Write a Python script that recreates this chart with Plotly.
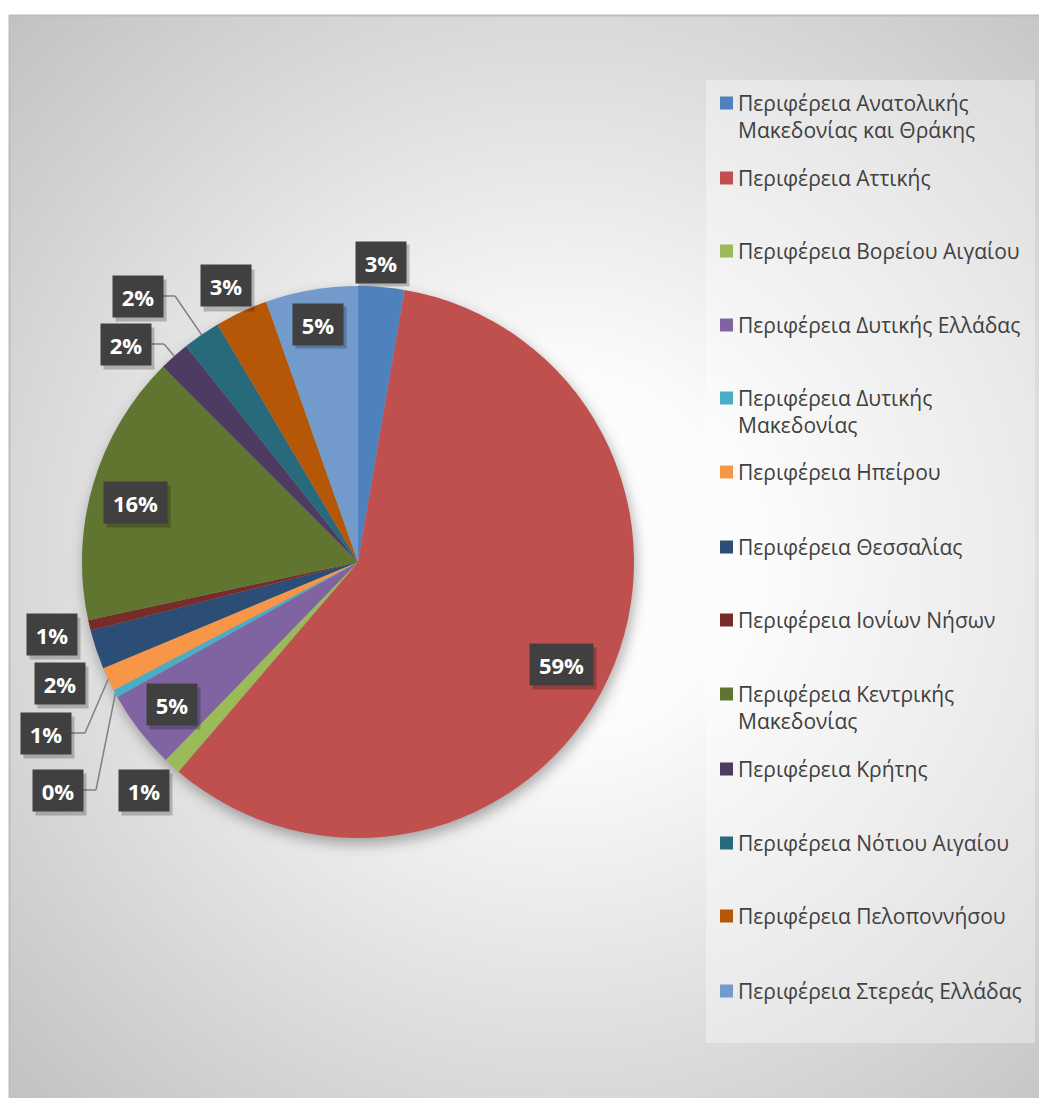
import base64
import math
import plotly.graph_objects as go

# ---------------- data ----------------
regions = [
    "Περιφέρεια Ανατολικής Μακεδονίας και Θράκης",
    "Περιφέρεια Αττικής",
    "Περιφέρεια Βορείου Αιγαίου",
    "Περιφέρεια Δυτικής Ελλάδας",
    "Περιφέρεια Δυτικής Μακεδονίας",
    "Περιφέρεια Ηπείρου",
    "Περιφέρεια Θεσσαλίας",
    "Περιφέρεια Ιονίων Νήσων",
    "Περιφέρεια Κεντρικής Μακεδονίας",
    "Περιφέρεια Κρήτης",
    "Περιφέρεια Νότιου Αιγαίου",
    "Περιφέρεια Πελοποννήσου",
    "Περιφέρεια Στερεάς Ελλάδας",
]
legend_lines = [
    "Περιφέρεια Ανατολικής<br>Μακεδονίας και Θράκης",
    "Περιφέρεια Αττικής",
    "Περιφέρεια Βορείου Αιγαίου",
    "Περιφέρεια Δυτικής Ελλάδας",
    "Περιφέρεια Δυτικής<br>Μακεδονίας",
    "Περιφέρεια Ηπείρου",
    "Περιφέρεια Θεσσαλίας",
    "Περιφέρεια Ιονίων Νήσων",
    "Περιφέρεια Κεντρικής<br>Μακεδονίας",
    "Περιφέρεια Κρήτης",
    "Περιφέρεια Νότιου Αιγαίου",
    "Περιφέρεια Πελοποννήσου",
    "Περιφέρεια Στερεάς Ελλάδας",
]
shares = [2.7, 58.6, 1.0, 4.6, 0.45, 1.4, 2.3, 0.6, 15.9, 1.8, 2.2, 3.1, 5.4]

colors = ["#4F81BD", "#C0504D", "#9BBB59", "#8064A2", "#4BACC6", "#F79646",
          "#2C4D75", "#772C2A", "#5F7530", "#4D3B62", "#276A7C", "#B65708",
          "#729ACA"]

# ---------------- layout geometry (pixels) ----------------
W, H = 1039, 1098
CX, CY, R = 358, 562, 276

# label box centres (px) and leader elbow (px) or None
label_pos = [(381, 262), (561, 664), (144, 790), (172, 704), (58, 790),
             (46, 733), (60, 683), (52, 634), (135, 502), (126, 344),
             (138, 296), (226, 286), (318, 324)]
leader_elbow = [None, None, None, None, (96, 790), (85, 733), None, None,
                None, (164, 344), (175, 296), None, None]
legend_y = [103, 178, 251, 325, 398, 472, 547, 620, 694, 769, 843, 916, 991]


def px(x):
    return x / W


def py(y):
    return 1 - y / H


# ---------------- background (radial gradient + pie shadow) ----------------
svg = f'''<svg xmlns="http://www.w3.org/2000/svg" width="{W}" height="{H}" viewBox="0 0 {W} {H}">
<defs>
<radialGradient id="g" gradientUnits="userSpaceOnUse" cx="560" cy="556" r="760">
<stop offset="0" stop-color="#ffffff"/>
<stop offset="0.25" stop-color="#fbfbfb"/>
<stop offset="1" stop-color="#c3c3c3"/>
</radialGradient>
<filter id="b" x="-20%" y="-20%" width="140%" height="140%"><feGaussianBlur stdDeviation="7"/></filter>
</defs>
<rect x="0" y="0" width="{W}" height="{H}" fill="#ffffff"/>
<rect x="9.5" y="15.5" width="{W}" height="{H}" fill="url(#g)" stroke="#bdbdbd" stroke-width="2"/>
<circle cx="{CX+2}" cy="{CY+6}" r="{R}" fill="#000000" fill-opacity="0.32" filter="url(#b)"/>
</svg>'''
bg_src = "data:image/svg+xml;base64," + base64.b64encode(svg.encode("utf-8")).decode()

fig = go.Figure()
fig.add_trace(go.Pie(
    labels=regions,
    values=shares,
    sort=False,
    direction="clockwise",
    rotation=0,
    marker=dict(colors=colors, line=dict(width=0)),
    textinfo="none",
    hoverinfo="label+percent",
    showlegend=False,
    domain=dict(x=[px(CX - R), px(CX + R)], y=[py(CY + R), py(CY - R)]),
))

shapes = []
annotations = []

# legend box
shapes.append(dict(type="rect", xref="paper", yref="paper", x0=px(706), x1=px(1035),
                   y0=py(1043), y1=py(80), fillcolor="rgba(255,255,255,0.35)",
                   line=dict(width=0), layer="below"))

# percentage labels
total = sum(shares)
cum = 0.0
for i, v in enumerate(shares):
    mid = 360.0 * (cum + v / 2) / total
    cum += v
    pct = f"{round(100 * v / total):d}%"
    lx, ly = label_pos[i]
    bw = 50 if len(pct) <= 2 else 63
    bh = 41
    if leader_elbow[i] is not None:
        ex, ey = leader_elbow[i]
        tx = CX + R * math.sin(math.radians(mid))
        ty = CY - R * math.cos(math.radians(mid))
        for (a, b, c, d) in [(lx + bw / 2, ly, ex, ey), (ex, ey, tx, ty)]:
            shapes.append(dict(type="line", xref="paper", yref="paper",
                               x0=px(a), y0=py(b), x1=px(c), y1=py(d),
                               line=dict(color="#808080", width=1.5)))
    # shadow
    annotations.append(dict(xref="paper", yref="paper", x=px(lx + 3), y=py(ly + 4),
                            text=" ", showarrow=False, width=bw, height=bh,
                            bgcolor="rgba(0,0,0,0.22)", borderpad=0,
                            xanchor="center", yanchor="middle"))
    annotations.append(dict(xref="paper", yref="paper", x=px(lx), y=py(ly),
                            text=f"<b>{pct}</b>", showarrow=False, width=bw, height=bh,
                            bgcolor="#404040", borderpad=0,
                            font=dict(family="Open Sans", size=22, color="#ffffff"),
                            xanchor="center", yanchor="middle"))

# legend entries
for i, name in enumerate(legend_lines):
    yc = legend_y[i]
    shapes.append(dict(type="rect", xref="paper", yref="paper",
                       x0=px(720), x1=px(733), y0=py(yc + 6.5), y1=py(yc - 6.5),
                       fillcolor=colors[i], line=dict(width=0)))
    annotations.append(dict(xref="paper", yref="paper", x=px(737), y=py(yc - 15),
                            text=name, showarrow=False, align="left",
                            xanchor="left", yanchor="top", borderpad=0,
                            font=dict(family="Open Sans", size=21, color="#404040")))

fig.update_layout(
    width=W, height=H,
    margin=dict(l=0, r=0, t=0, b=0),
    paper_bgcolor="#ffffff",
    plot_bgcolor="rgba(0,0,0,0)",
    images=[dict(source=bg_src, xref="paper", yref="paper", x=0, y=1, sizex=1, sizey=1,
                 xanchor="left", yanchor="top", sizing="stretch", layer="below")],
    shapes=shapes,
    annotations=annotations,
    showlegend=False,
)

fig.write_html("out.html",
               config={"displayModeBar": False},
               post_script="document.body.style.margin='0px';document.body.style.padding='0px';")
